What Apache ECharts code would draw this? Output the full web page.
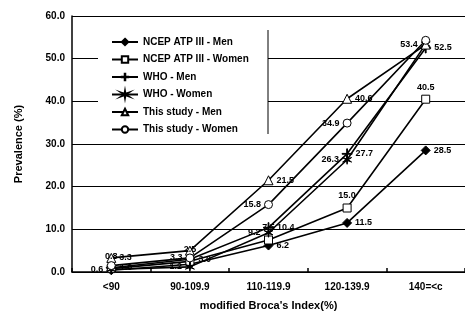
<!DOCTYPE html>
<html>
<head>
<meta charset="utf-8">
<script src="https://cdn.jsdelivr.net/npm/echarts@6/dist/echarts.min.js"></script>
<style>
  html, body { margin: 0; padding: 0; background: #fff; }
  #chart { width: 465px; height: 316px; }
</style>
</head>
<body>
<div id="chart"></div>
<script>
// categories and values
const categories = ['<90', '90-109.9', '110-119.9', '120-139.9', '140=<c'];
const ncepMen = [0.4, 1.8, 6.2, 11.5, 28.5];
const ncepWomen = [0.8, 2.5, 7.5, 15.0, 40.5];
const whoMen = [1.0, 3.0, 10.4, 27.7, 52.5];
const whoWomen = [0.6, 1.2, 9.2, 26.3, 53.4];
const studyMen = [3.3, 5.0, 21.5, 40.6, 53.3];
const studyWomen = [1.5, 3.3, 15.8, 34.9, 54.3];

const font = 'Liberation Sans, Arial, sans-serif';
const plusIcon = 'path://M4.6,0h0.8v4.6h4.6v0.8h-4.6v4.6h-0.8v-4.6h-4.6v-0.8h4.6z';
const starIcon = 'path://M5,0L5.6,4L9.3,2.5L6.2,5L9.3,7.5L5.6,6L5,10L4.4,6L0.7,7.5L3.8,5L0.7,2.5L4.4,4Z';

const myChart = echarts.init(document.getElementById('chart'));

function makeSeries(name, data, symbol, size, fill, labelPos) {
  return {
    name: name,
    type: 'line',
    data: data,
    symbol: symbol,
    symbolSize: size,
    showAllSymbol: true,
    lineStyle: { color: '#000', width: 1.6 },
    itemStyle: { color: fill, borderColor: '#000', borderWidth: 1 },
    label: {
      show: true,
      position: labelPos,
      distance: 3,
      fontSize: 9,
      fontWeight: 'bold',
      fontFamily: font,
      color: '#000',
      formatter: p => p.value.toFixed(1)
    },
    labelLayout: { hideOverlap: true },
    emphasis: { disabled: true },
    z: 3
  };
}

const option = {
  animation: false,
  backgroundColor: '#fff',
  grid: { left: 72, top: 16, bottom: 44, right: -7 },
  legend: {
    orient: 'vertical',
    left: 106,
    top: 32,
    itemWidth: 26,
    itemHeight: 8,
    itemGap: 7.5,
    z: 5,
    textStyle: { fontSize: 10, fontWeight: 'bold', fontFamily: font, color: '#000' },
    data: ['NCEP ATP III - Men', 'NCEP ATP III - Women', 'WHO - Men', 'WHO - Women', 'This study - Men', 'This study - Women']
  },
  graphic: [
    { type: 'rect', z: 1, shape: { x: 98, y: 30, width: 170, height: 104 }, style: { fill: '#fff' } },
    { type: 'line', z: 1, shape: { x1: 268, y1: 30, x2: 268, y2: 134 }, style: { stroke: '#000', lineWidth: 1 } }
  ],
  xAxis: {
    type: 'category',
    data: categories,
    boundaryGap: true,
    name: "modified Broca's Index(%)",
    nameLocation: 'middle',
    nameGap: 28,
    nameTextStyle: { fontSize: 11, fontWeight: 'bold', fontFamily: font, color: '#000' },
    axisLine: { lineStyle: { color: '#000', width: 1.5 } },
    axisTick: { show: true, inside: true, length: 4, lineStyle: { color: '#000', width: 1.5 } },
    axisLabel: { fontSize: 10, fontWeight: 'bold', fontFamily: font, color: '#000', margin: 10 }
  },
  yAxis: {
    type: 'value',
    min: 0,
    max: 60,
    interval: 10,
    name: 'Prevalence (%)',
    nameLocation: 'middle',
    nameGap: 48,
    nameTextStyle: { fontSize: 11, fontWeight: 'bold', fontFamily: font, color: '#000' },
    axisLine: { show: true, lineStyle: { color: '#000', width: 1.5 } },
    axisTick: { show: false },
    splitLine: { show: true, lineStyle: { color: '#000', width: 1.2 } },
    axisLabel: {
      fontSize: 10, fontWeight: 'bold', fontFamily: font, color: '#000', margin: 7,
      formatter: v => v.toFixed(1)
    }
  },
  series: [
    makeSeries('NCEP ATP III - Men', ncepMen, 'diamond', 9, '#000', 'right'),
    makeSeries('NCEP ATP III - Women', ncepWomen, 'rect', 8, '#fff', 'top'),
    makeSeries('WHO - Men', whoMen, plusIcon, 10, '#000', 'right'),
    makeSeries('WHO - Women', whoWomen, starIcon, 9, '#000', 'left'),
    makeSeries('This study - Men', studyMen, 'triangle', 9, '#fff', 'right'),
    makeSeries('This study - Women', studyWomen, 'circle', 8, '#fff', 'left')
  ]
};

myChart.setOption(option);
</script>
</body>
</html>
